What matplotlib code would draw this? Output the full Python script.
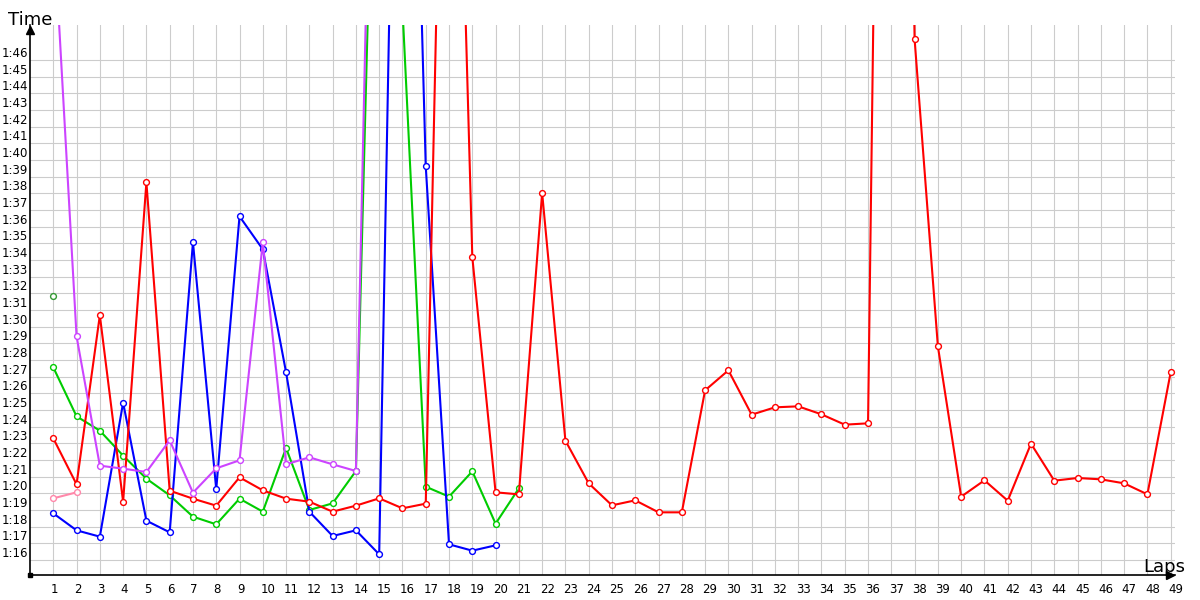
import matplotlib
matplotlib.use("Agg")
import matplotlib.pyplot as plt
import numpy as np
from matplotlib.transforms import ScaledTranslation, offset_copy

# ---------------- data (lap times in seconds) ----------------
red_times = [83.30, 80.54, 90.68, 79.50, 98.66, 80.16, 79.68, 79.26, 80.96, 80.18,
             79.68, 79.50, 78.90, 79.26, 79.70, 79.10, 79.38, 144.0, 94.18, 80.06,
             79.94, 98.02, 83.16, 80.60, 79.28, 79.58, 78.86, 78.86, 86.18, 87.38,
             84.72, 85.16, 85.22, 84.74, 84.12, 84.20, 191.0, 107.24, 88.82, 79.80,
             80.78, 79.56, 82.98, 80.76, 80.92, 80.84, 80.60, 79.94, 87.26]
blue_times = [78.80, 77.78, 77.40, 85.44, 78.36, 77.66, 95.06, 80.24, 96.62, 94.64,
              87.26, 78.90, 77.44, 77.78, 76.34, 151.0, 99.62, 76.94, 76.56, 76.88]
green_times = [87.56, 84.62, 83.76, 82.26, 80.88, 79.88, 78.60, 78.14, 79.68, 78.90,
               82.72, 79.00, 79.40, 81.34, 134.6, 109.1, 80.40, 79.80, 81.32, 78.18,
               80.30]
purple_times = [114.4, 89.42, 81.66, 81.48, 81.28, 83.18, 80.04, 81.50, 81.98, 95.06,
                81.74, 82.16, 81.74, 81.34, 145.5]
pink_times = [79.70, 80.06]
darkgreen_times = [91.82]

lap_ticks = list(range(1, 50))
lap_labels = [str(n) for n in lap_ticks]
time_ticks = list(range(76, 107))
time_labels = [f"{t // 60}:{t % 60:02d}" for t in time_ticks]

series = [
    (green_times, "#00cc00"),
    (blue_times, "#0000ff"),
    (red_times, "#ff0000"),
    (purple_times, "#cc44ff"),
    (pink_times, "#ff88aa"),
    (darkgreen_times, "#339933"),
]

# ---------------- figure ----------------
W, H = 1200, 600
fig = plt.figure(figsize=(12, 6), dpi=100)
ax = fig.add_axes([30 / W, 25 / H, 1145 / W, 550 / H])
ax.set_xlim(0, 1145 / 23.279)
ax.set_ylim(75.1, 108.1)

for vals, col in series:
    laps = np.arange(1, len(vals) + 1)
    ax.plot(laps, vals, color=col, lw=1.5, marker="o", ms=4.2,
            mfc="white", mec=col, mew=1.0, solid_joinstyle="miter", zorder=3)

ax.set_xticks(lap_ticks, lap_labels, ha="left")
ax.set_yticks(time_ticks, time_labels, va="bottom")
ax.tick_params(axis="both", length=0, labelsize=8.5, colors="black")
ax.tick_params(axis="y", pad=1.5)
ax.tick_params(axis="x", pad=6)
shift = ScaledTranslation(-2.5 / 100, 0, fig.dpi_scale_trans)
for lbl in ax.get_xticklabels():
    lbl.set_transform(lbl.get_transform() + shift)

ax.grid(True, color="#cccccc", lw=0.8)
ax.set_axisbelow(True)
for s in ["top", "right"]:
    ax.spines[s].set_visible(False)
for s in ["left", "bottom"]:
    ax.spines[s].set_color("black")
    ax.spines[s].set_linewidth(1.2)

# axis arrows
up = offset_copy(ax.transAxes, fig=fig, x=0, y=-5, units="dots")
ax.plot([0], [1], marker="^", ms=6, color="black", transform=up, clip_on=False, zorder=5)
rt = offset_copy(ax.transAxes, fig=fig, x=-5, y=0, units="dots")
ax.plot([1], [0], marker=">", ms=6, color="black", transform=rt, clip_on=False, zorder=5)
ax.plot([0], [0], marker="s", ms=2.5, color="black", transform=ax.transAxes,
        clip_on=False, zorder=5)

fig.text(8 / W, 1 - 25 / H, "Time", fontsize=13, ha="left", va="baseline")
fig.text(1143 / W, 1 - 572 / H, "Laps", fontsize=13, ha="left", va="baseline")

fig.savefig("out.png", dpi=100, facecolor="white")
